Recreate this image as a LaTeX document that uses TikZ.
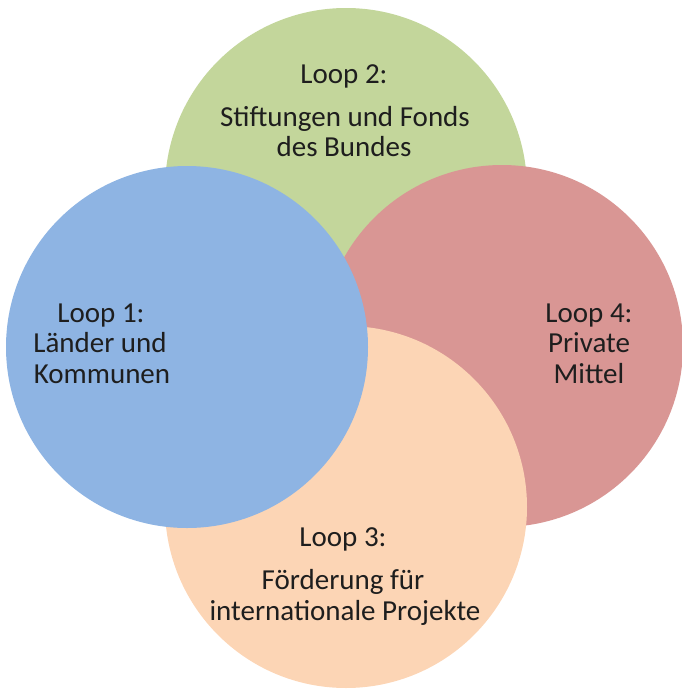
\documentclass[tikz,border=0pt]{standalone}
\usepackage{fontspec}
\setmainfont{Carlito}
\definecolor{cgreen}{RGB}{195,214,155}
\definecolor{cblue}{RGB}{142,180,227}
\definecolor{cred}{RGB}{217,150,148}
\definecolor{corange}{RGB}{252,213,181}
\definecolor{ctext}{RGB}{30,30,30}
\begin{document}
\begin{tikzpicture}[x=1pt,y=-1pt,
  blob/.style={circle,inner sep=0pt,minimum size=362pt,draw=none},
  lbl/.style={anchor=base,inner sep=0pt,text=ctext,font=\fontsize{29}{33}\selectfont}]
\useasboundingbox (0,0) rectangle (682,691);
\node[blob,fill=cgreen] (c2) at (346,189) {};
\node[blob,fill=cred] (c4) at (502,346) {};
\node[blob,fill=corange] (c3) at (346,507) {};
\node[blob,fill=cblue] (c1) at (187,347) {};
% Loop 2
\node[lbl] (t2a) at (344,83) {Loop 2:};
\node[lbl] (t2b) at (345,126) {Stiftungen und Fonds};
\node[lbl] (t2c) at (344,156) {des Bundes};
% Loop 1
\node[lbl] (t1a) at (101,322) {Loop 1:};
\node[lbl] (t1b) at (100,352) {Länder und};
\node[lbl] (t1c) at (102,383) {Kommunen};
% Loop 4
\node[lbl] (t4a) at (589,322) {Loop 4:};
\node[lbl] (t4b) at (589,352) {Private};
\node[lbl] (t4c) at (589,383) {Mittel};
% Loop 3
\node[lbl] (t3a) at (343,546) {Loop 3:};
\node[lbl] (t3b) at (343,589) {Förderung für};
\node[lbl] (t3c) at (345,620) {internationale Projekte};
\end{tikzpicture}
\end{document}
